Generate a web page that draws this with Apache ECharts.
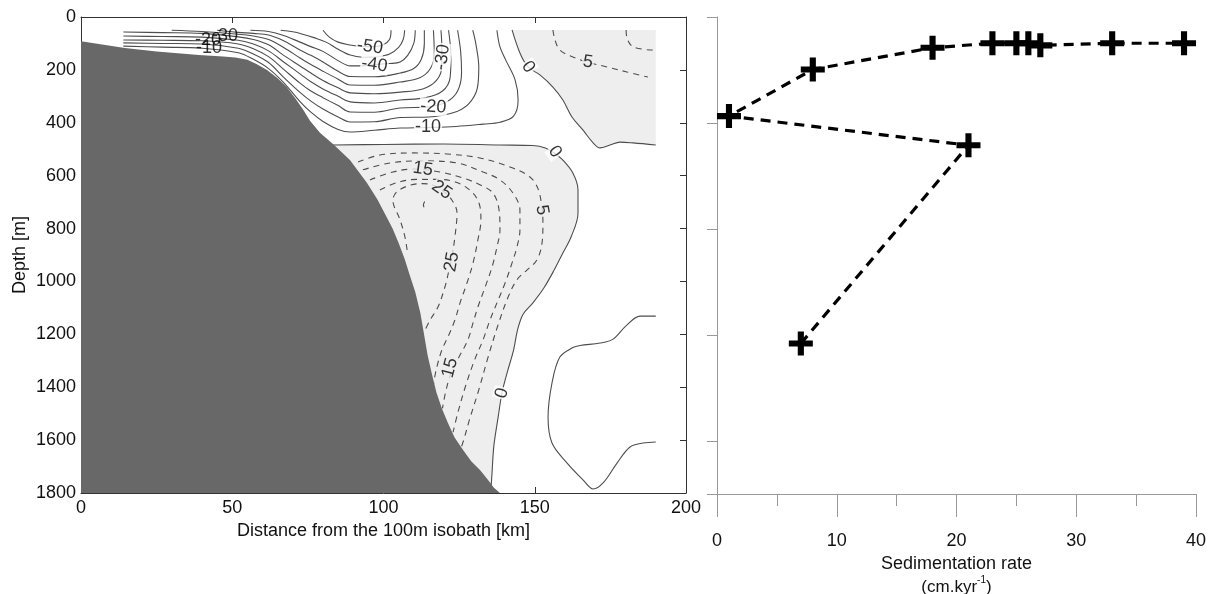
<!DOCTYPE html>
<html><head><meta charset="utf-8">
<script src="https://cdn.jsdelivr.net/npm/echarts@6/dist/echarts.min.js"></script>
<style>html,body{margin:0;padding:0;background:#fff}#c{width:1211px;height:594px}</style>
</head><body><div id="c"></div>
<script>
// ---------------- LEFT PANEL DATA (distance km, depth m) ----------------
var xTicksLeft = [0, 50, 100, 150, 200];
var depthTicks = [0, 200, 400, 600, 800, 1000, 1200, 1400, 1600, 1800];

// bottom topography (slope), closed polygon
var slope = [[0,92],[14.5,117],[25,130],[39,144],[47,149],[51,153],[55,162],[58,178],[61.5,200],[65,232],[68,265],[71,310],[73.4,350],[75.7,392],[79,438],[83.3,480],[88.9,541],[94.5,627],[98,690],[100.5,745],[103,800],[105,855],[107,915],[108.5,970],[110.5,1040],[112.2,1120],[113.4,1200],[114.6,1280],[116,1350],[117.5,1420],[119.3,1480],[121.3,1535],[123.5,1590],[126.3,1637],[129,1680],[131.9,1713],[134.5,1750],[136.5,1780],[138.5,1800],[0,1800]];

// zero contours
var zeroA = [[142.5,49],[145.1,136],[147.8,189],[151.7,219],[156,265],[159.3,314],[162.3,378],[165.9,427],[169.3,476],[171.6,495],[174.9,484],[178.2,473],[182.5,476],[190,484]];
var zeroB = [[83.3,484],[100,482],[120,480],[138.5,484],[149.4,486],[153.5,495],[156.5,515],[159.3,541],[162.6,590],[164.3,654],[164.3,741],[162,832],[159.3,892],[156.5,955],[153,1025],[149.4,1081],[146.1,1125],[144.3,1184],[143,1260],[141,1340],[139.2,1420],[137.9,1513],[136.5,1620],[135.9,1720],[135.5,1790]];
var zeroC = [[190,1131],[184.8,1131],[180,1170],[175.9,1218],[171.6,1233],[165,1242],[162.6,1250],[158.3,1286],[155.7,1384],[154.4,1513],[155.7,1611],[160.7,1687],[166,1751],[169.3,1785],[172.6,1762],[177.2,1687],[181.5,1626],[185.8,1611],[190,1607]];

// positive-region fills (light grey)
var posA = zeroA.concat([[190,49]]);
var posB = zeroB.concat([[80,1800],[80,484]]);

// negative contours (solid), innermost to outermost
var neg1 = [[80,50],[82,75],[85,95],[89,106],[93,112],[97,112],[100,104],[102,85],[102.5,50]];
var neg2 = [[66,50],[70,56],[73,64],[77,78],[81,95],[85,122],[89,144],[93,152],[98,150],[102,140],[105,115],[106.5,85],[107,50]];
var neg3 = [[56,50],[62,55],[67,70],[72.4,95],[76,112],[80,130],[85,165],[89,185],[93,185],[97,180],[102,176],[105.5,170],[108,145],[110,100],[110.5,50]];
var neg4 = [[45,50],[52,58],[57,62],[62,68],[67,90],[72.4,125],[76,145],[80,170],[85,205],[89,225],[97,226],[105.5,212],[110,195],[112.5,160],[113.5,100],[113.5,50]];
var neg5 = [[30,50],[40,55],[52,65],[57,72],[62,85],[67,115],[72.4,155],[76,180],[80,205],[85,235],[89,257],[97,258],[105.5,246],[112,230],[115.5,195],[116.8,140],[116.5,50]];
var neg6 = [[14,57],[27,59],[40,62],[52,75],[57,85],[62,105],[67,145],[72.4,185],[76,212],[80,240],[85,268],[89,287],[97,290],[105.5,284],[113,272],[117.5,240],[119.3,185],[119.3,120],[119,50]];
var neg7 = [[14,72],[27,74],[40,76],[52,88],[57,102],[62,128],[67,170],[72.4,215],[76,245],[80,272],[85,300],[89,321],[97,325],[105.5,314],[114,305],[119.5,280],[122,230],[122.3,150],[121.5,50]];
var neg8 = [[14,87],[27,88],[40,90],[52,102],[57,120],[62,150],[67,198],[72.4,250],[76,280],[80,305],[85,335],[89,359],[97,360],[105.5,344],[115,340],[121,320],[124.5,280],[125.8,210],[125.5,130],[124.5,50]];
var neg9 = [[14,98],[27,100],[40,102],[52,118],[57,140],[62,172],[67,228],[72.4,285],[76,318],[80,348],[85,378],[89,397],[97,396],[105.5,380],[115,378],[123,362],[128,330],[131,270],[131.5,190],[130.5,100],[129.5,50]];
var neg10 = [[14,110],[27,114],[40,118],[52,135],[57,160],[62,195],[67,248],[72.4,320],[76,360],[80,395],[85,425],[89,435],[97,428],[105.5,420],[114.7,418],[124,414],[133,405],[138.5,398],[143,375],[144.5,314],[143.5,238],[140.5,165],[138.5,113],[137.5,50]];

// positive contours (dashed)
var pos5 = [[91.6,548],[98.8,522],[109.8,514],[121,518],[131.9,533],[141.8,567],[148.4,605],[151.1,650],[152.4,722],[152.7,779],[152.4,855],[150.7,919],[147.4,957],[144.1,994],[141.2,1059],[138,1160],[134.6,1285],[131.5,1410],[128.5,1520],[126.5,1600],[125,1650]];
var pos10 = [[93.2,578],[102.1,552],[113,544],[124.3,552],[132.9,586],[138.5,616],[142.8,666],[145.1,730],[145.1,805],[144.1,870],[142.5,930],[140.2,1006],[137.5,1081],[135.2,1146],[132.9,1221],[130,1300],[127,1400],[124.5,1500],[123,1570]];
var pos15 = [[95.5,616],[103.1,586],[109.8,575],[118.7,586],[126.3,609],[132,635],[136.2,666],[138.2,730],[138.5,805],[137.5,870],[135.9,945],[133.6,1021],[131.2,1097],[129.6,1157],[127.9,1221],[125,1285],[122.5,1340],[120.5,1420],[119.5,1480]];
var pos20 = [[98.8,654],[104.5,626],[111,614],[118,614],[124.3,626],[129.6,666],[131.9,718],[132.2,768],[131.2,843],[129.6,930],[127.6,1006],[125.3,1081],[123.6,1146],[121.3,1210],[119.3,1259],[117.5,1330],[116.5,1390]];
var pos25 = [[107.8,881],[107.1,832],[105.5,768],[103.1,692],[104.5,660],[108.8,636],[113,630],[116.4,636],[119.3,654],[122.6,692],[124.3,741],[123.6,832],[122.6,907],[121.5,965],[120.3,1021],[118,1097],[115.4,1146],[113.5,1190]];
var pos30 = [[113.6,698],[113.2,712],[113.9,728]];
var posA5a = [[156,49],[156.7,87],[158.3,125],[162.6,151],[167.3,170],[173.9,189],[180.5,208],[187.4,227]];
var posA5b = [[180.2,49],[180.5,79],[182.5,113],[189,125]];

// contour labels [km, m, text]
var labelsOnWhite = [[95.5,113,'-50'],[97,181,'-40'],[119.5,152,'-30'],[116.5,340,'-20'],[114.7,416,'-10'],[147.8,189,'0'],[156.7,510,'0'],[139.2,1422,'0']];
var rotOnWhite = [-8,-8,82,-4,0,-55,-55,75];
var labelsShelf = [[47.6,72,'-30'],[42,88,'-20'],[42.3,118,'-10']];
var rotShelf = [0,0,0];
var labelsOnGrey = [[167.6,170,'5'],[113,575,'15'],[119.3,654,'25'],[152.4,730,'5'],[122.6,926,'25'],[122,1327,'15']];
var rotOnGrey = [-8,-8,-35,-80,80,75];

// ---------------- RIGHT PANEL DATA ----------------
var sedRate  = [7, 21, 1, 8, 18, 23, 25, 26, 27, 33, 39];
var sedDepth = [1232, 484, 374, 198, 116, 99, 99, 99, 107, 99, 99];
var sedTicks = [0, 10, 20, 30, 40];

// ---------------- BUILD ----------------
var FONT = 'Liberation Sans, Arial, Helvetica, sans-serif';
var chart = echarts.init(document.getElementById('c'), null, {renderer:'canvas'});

function polySeries(points, color, z) {
  return {type:'custom', xAxisIndex:0, yAxisIndex:0, z:z, silent:true,
    data:[points[0]],
    renderItem:function(params, api){
      return {type:'polygon', shape:{points:points.map(function(p){return api.coord(p);})}, style:{fill:color}};
    }};
}
function contour(points, dashed, width) {
  return {type:'line', xAxisIndex:0, yAxisIndex:0, data:points, symbol:'none', showSymbol:false,
    smooth:0.35, z:3, silent:true,
    lineStyle:{color:'#4d4d4d', width:width || 1.1, type:dashed ? [6,5] : 'solid'}};
}
function labelSeries(arr, rots, bg) {
  return {type:'scatter', xAxisIndex:0, yAxisIndex:0, z:6, symbolSize:1, silent:true,
    itemStyle:{color:'rgba(0,0,0,0)'},
    data:arr.map(function(l,i){return {value:[l[0],l[1]], name:l[2], label:{rotate:rots[i]}};}),
    label:{show:true, position:'inside', formatter:function(p){return p.name;},
      fontSize:18, fontFamily:FONT, color:'#000', backgroundColor:bg, padding:[0,1]}};
}

var series = [
  polySeries(posA, '#eeeeee', 1),
  polySeries(posB, '#eeeeee', 1),
  contour(neg1), contour(neg2), contour(neg3), contour(neg4), contour(neg5),
  contour(neg6), contour(neg7), contour(neg8), contour(neg9), contour(neg10),
  contour(zeroA), contour(zeroB), contour(zeroC),
  contour(pos5, true), contour(pos10, true), contour(pos15, true), contour(pos20, true),
  contour(pos25, true), contour(pos30, true), contour(posA5a, true), contour(posA5b, true),
  polySeries(slope, '#686868', 4),
  labelSeries(labelsOnWhite, rotOnWhite, '#ffffff'),
  labelSeries(labelsShelf, rotShelf, 'transparent'),
  labelSeries(labelsOnGrey, rotOnGrey, '#eeeeee'),
  {type:'line', xAxisIndex:2, yAxisIndex:2, z:5,
    data:sedRate.map(function(v,i){return [v, sedDepth[i]];}),
    symbol:'path://M8.75,0h6v8.75h8.75v6h-8.75v8.75h-6v-8.75h-8.75v-6h8.75z', symbolSize:24, showSymbol:true,
    itemStyle:{color:'#000'},
    lineStyle:{color:'#000', width:3.2, type:[10,7]}}
];

function plain(v){ return String(v); }
var labStyle = {fontSize:18, fontFamily:FONT, color:'#111', formatter:plain};
var frameLine = {show:true, onZero:false, lineStyle:{color:'#333', width:1}};
var frameTick = {show:true, inside:true, length:6, lineStyle:{color:'#333'}};
var option = {
  animation:false,
  backgroundColor:'#fff',
  grid:[
    {left:81, top:17, width:605, height:476, show:false, containLabel:false, outerBoundsMode:'none'},
    {left:717, top:17, width:479, height:477, show:false, containLabel:false, outerBoundsMode:'none'}
  ],
  xAxis:[
    {gridIndex:0, type:'value', min:xTicksLeft[0], max:xTicksLeft[xTicksLeft.length-1], interval:50, position:'bottom',
     axisLine:frameLine, axisTick:frameTick,
     axisLabel:Object.assign({margin:6}, labStyle), splitLine:{show:false},
     name:'Distance from the 100m isobath [km]', nameLocation:'middle', nameGap:27,
     nameTextStyle:{fontSize:18, fontFamily:FONT, color:'#111'}},
    {gridIndex:0, type:'value', min:0, max:200, interval:50, position:'top',
     axisLine:frameLine, axisTick:frameTick, axisLabel:{show:false}, splitLine:{show:false}},
    {gridIndex:1, type:'value', min:sedTicks[0], max:sedTicks[sedTicks.length-1], interval:10, position:'bottom',
     axisLine:{show:true, onZero:false, lineStyle:{color:'#999', width:1}},
     axisTick:{show:true, inside:false, length:23, lineStyle:{color:'#999'}},
     minorTick:{show:true, splitNumber:2, length:12, lineStyle:{color:'#999'}},
     axisLabel:Object.assign({margin:38}, labStyle), splitLine:{show:false},
     name:'{a|Sedimentation rate}\n{b|(cm.kyr}{s|-1}{b|)}', nameLocation:'middle', nameGap:54,
     nameTextStyle:{rich:{
       a:{fontSize:18, fontFamily:FONT, color:'#111', lineHeight:23},
       b:{fontSize:17, fontFamily:FONT, color:'#111', lineHeight:23},
       s:{fontSize:10, fontFamily:FONT, color:'#111', lineHeight:12, verticalAlign:'top'}}}}
  ],
  yAxis:[
    {gridIndex:0, type:'value', inverse:true, min:depthTicks[0], max:depthTicks[depthTicks.length-1], interval:200, position:'left',
     axisLine:frameLine, axisTick:frameTick,
     axisLabel:Object.assign({margin:5}, labStyle), splitLine:{show:false},
     name:'Depth [m]', nameLocation:'middle', nameRotate:90, nameGap:52,
     nameTextStyle:{fontSize:18, fontFamily:FONT, color:'#111'}},
    {gridIndex:0, type:'value', inverse:true, min:0, max:1800, interval:200, position:'right',
     axisLine:frameLine, axisTick:frameTick, axisLabel:{show:false}, splitLine:{show:false}},
    {gridIndex:1, type:'value', inverse:true, min:0, max:1800, interval:400, position:'left',
     axisLine:{show:true, onZero:false, lineStyle:{color:'#999', width:1}},
     axisTick:{show:true, inside:false, length:10, lineStyle:{color:'#999'}},
     axisLabel:{show:false}, splitLine:{show:false}}
  ],
  series:series
};
chart.setOption(option);
</script></body></html>
